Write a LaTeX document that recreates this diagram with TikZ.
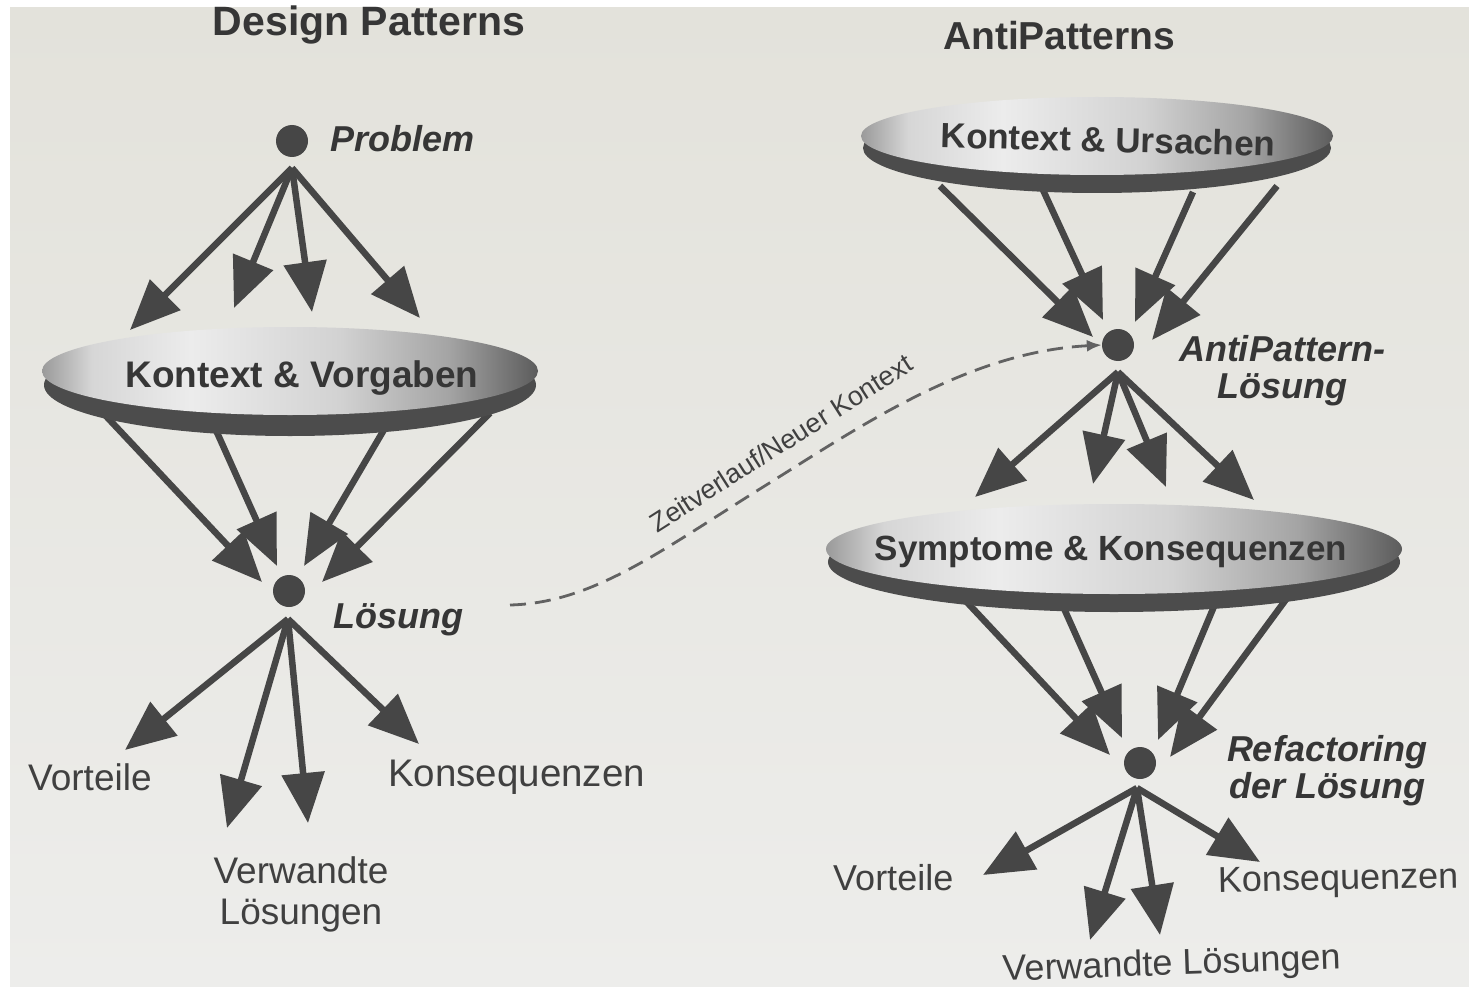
\documentclass[tikz,border=0pt]{standalone}
\usepackage{fontspec}
\setmainfont{Liberation Sans}
\usetikzlibrary{arrows.meta}

\definecolor{ink}{HTML}{464646}
\definecolor{txt}{HTML}{363636}
\definecolor{soft}{HTML}{404040}
\definecolor{pagetop}{HTML}{E3E2DB}
\definecolor{pagebot}{HTML}{EDEDEB}
\definecolor{rimgray}{HTML}{4C4C4C}
\definecolor{discA}{HTML}{9A9A9A}
\definecolor{discB}{HTML}{D6D6D6}
\definecolor{discC}{HTML}{ECECEC}
\definecolor{discD}{HTML}{D2D2D2}
\definecolor{discE}{HTML}{A4A4A4}
\definecolor{discF}{HTML}{5C5C5C}
\pgfdeclarehorizontalshading{discsurf}{100bp}{color(0bp)=(discA); color(25bp)=(discA);
  color(30bp)=(discB); color(40bp)=(discC); color(55bp)=(discD);
  color(66bp)=(discE); color(75bp)=(discF); color(100bp)=(discF)}

\tikzset{
  bigarrow/.style={draw=ink, line width=6.5pt, -{Triangle[length=50pt,width=42pt]}},
  dot/.style={circle, fill=ink, inner sep=0pt, minimum size=32pt},
  title/.style={font=\fontsize{41}{44}\selectfont\bfseries, text=txt, inner sep=0pt},
  disclabel/.style={font=\fontsize{37}{40}\selectfont\bfseries, text=txt, inner sep=0pt},
  stage/.style={font=\fontsize{36}{37}\selectfont\bfseries\itshape, text=txt, inner sep=0pt},
  outcome/.style={font=\fontsize{37}{40}\selectfont, text=soft, inner sep=0pt},
  timeline/.style={draw=ink!85, line width=2.8pt, dash pattern=on 16pt off 9pt,
    -{Latex[length=15pt,width=12pt]}},
  timelabel/.style={font=\fontsize{27}{30}\selectfont, text=soft, inner sep=0pt},
  rim/.style={fill=rimgray},
  surface/.style={shading=discsurf}
}

\begin{document}
\begin{tikzpicture}[x=1pt,y=-1pt]
\useasboundingbox (0,0) rectangle (1469,987);
% page
\fill[white] (0,0) rectangle (1469,987);
\shade[top color=pagetop, bottom color=pagebot] (10,8) rectangle (1469,987);

% ---------------- Design Patterns ----------------
\node[title, anchor=base] (dptitle) at (369,36) {Design Patterns};

\node[dot] (prob) at (292,141) {};
\node[stage, anchor=base west] (problbl) at (330,152) {Problem};
\coordinate (probapex) at (292,168);
\coordinate (pt1) at (130,330);
\coordinate (pt2) at (234,308);
\coordinate (pt3) at (312,312);
\coordinate (pt4) at (420,318);

% lines leaving the context disc (drawn under it)
\coordinate (ks1) at (105,415);
\coordinate (ks2) at (215,428);
\coordinate (ks3) at (385,428);
\coordinate (ks4) at (490,413);
\coordinate (kt1) at (262,582);
\coordinate (kt2) at (277,566);
\coordinate (kt3) at (304,566);
\coordinate (kt4) at (322,582);
\foreach \i in {1,...,4} \draw[bigarrow] (ks\i) -- (kt\i);

% context disc
\fill[rim] (290,385) ellipse [x radius=246, y radius=51];
\shade[surface] (290,371) ellipse [x radius=248, y radius=44];
\node[disclabel, anchor=base] (kv) at (302,387) {Kontext \& Vorgaben};

\foreach \i in {1,...,4} \draw[bigarrow] (probapex) -- (pt\i);

\node[dot] (sol) at (289,591) {};
\node[stage, anchor=base west] (sollbl) at (333,628) {Lösung};
\coordinate (solapex) at (288,619);
\coordinate (st1) at (125,750);
\coordinate (st2) at (227,828);
\coordinate (st3) at (308,823);
\coordinate (st4) at (419,744);
\foreach \i in {1,...,4} \draw[bigarrow] (solapex) -- (st\i);

\node[outcome, anchor=base west] (vorteil1) at (28,790) {Vorteile};
\node[outcome, font=\fontsize{38.5}{40}\selectfont, anchor=base west] (kons1) at (388,786) {Konsequenzen};
\node[outcome, anchor=base, align=center] (verw1) at (301,924) {Verwandte\\[1pt]Lösungen};

% ---------------- AntiPatterns ----------------
\node[title, font=\fontsize{39}{42}\selectfont\bfseries, anchor=base] (aptitle) at (1059,50) {AntiPatterns};

\coordinate (us1) at (940,186);
\coordinate (us2) at (1043,190);
\coordinate (us3) at (1193,192);
\coordinate (us4) at (1277,186);
\coordinate (ut1) at (1093,337);
\coordinate (ut2) at (1103,320);
\coordinate (ut3) at (1135,322);
\coordinate (ut4) at (1152,340);
\foreach \i in {1,...,4} \draw[bigarrow] (us\i) -- (ut\i);

% causes disc
\fill[rim] (1097,148) ellipse [x radius=234, y radius=45];
\shade[surface] (1097,136) ellipse [x radius=236, y radius=39];
\node[disclabel, font=\fontsize{35}{38}\selectfont\bfseries, anchor=base, rotate=-1.5] (ku) at (1108,152) {Kontext \& Ursachen};

\node[dot] (aps) at (1118,345) {};
\node[stage, anchor=north, align=center] (apslbl) at (1282,335) {AntiPattern-\\Lösung};
\coordinate (apapex) at (1118,372);
\coordinate (at1) at (975,497);
\coordinate (at2) at (1093,484);
\coordinate (at3) at (1166,487);
\coordinate (at4) at (1254,500);

% lines leaving the symptoms disc (drawn under it)
\coordinate (ss1) at (963,598);
\coordinate (ss2) at (1062,604);
\coordinate (ss3) at (1215,604);
\coordinate (ss4) at (1290,594);
\coordinate (sx1) at (1110,755);
\coordinate (sx2) at (1122,738);
\coordinate (sx3) at (1158,740);
\coordinate (sx4) at (1170,757);
\foreach \i in {1,...,4} \draw[bigarrow] (ss\i) -- (sx\i);

% symptoms disc
\fill[rim] (1114,562) ellipse [x radius=286, y radius=50];
\shade[surface] (1114,549) ellipse [x radius=288, y radius=45];
\node[disclabel, font=\fontsize{35}{38}\selectfont\bfseries, anchor=base] (sk) at (1111,560) {Symptome \& Konsequenzen};

\foreach \i in {1,...,4} \draw[bigarrow] (apapex) -- (at\i);

\node[dot] (ref) at (1140,763) {};
\node[stage, anchor=north, align=center] (reflbl) at (1327,735) {Refactoring\\der Lösung};
\coordinate (refapex) at (1137,788);
\coordinate (rt1) at (983,875);
\coordinate (rt2) at (1090,940);
\coordinate (rt3) at (1160,935);
\coordinate (rt4) at (1260,862);
\foreach \i in {1,...,4} \draw[bigarrow] (refapex) -- (rt\i);

\node[outcome, font=\fontsize{36}{40}\selectfont, anchor=base west] (vorteil2) at (833,890) {Vorteile};
\node[outcome, font=\fontsize{36}{40}\selectfont, anchor=base west, rotate=1] (kons2) at (1218,892) {Konsequenzen};
\node[outcome, font=\fontsize{36}{40}\selectfont, anchor=base, rotate=2] (verw2) at (1172,975) {Verwandte Lösungen};

% ---------------- time line ----------------
\coordinate (tstart) at (510,605);
\draw[timeline] (tstart) .. controls (590,603) and (655,555) .. (755,492)
  .. controls (855,430) and (965,352) .. (aps.west);
\node[timelabel, rotate=32.5] (tlbl) at (781,443) {Zeitverlauf/Neuer Kontext};
\end{tikzpicture}
\end{document}
